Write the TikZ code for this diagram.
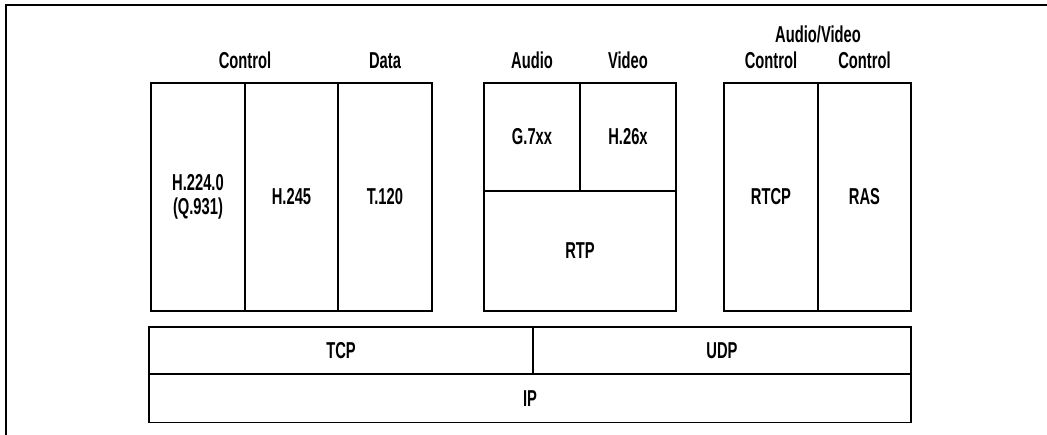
\documentclass[tikz,border=0pt]{standalone}
\usepackage{fontspec}
\newfontfamily\labfont{Liberation Sans}[FakeStretch=0.64]
\tikzset{
  cellbox/.style={draw, line width=1.6pt, inner sep=0pt, align=center,
    font=\labfont\bfseries\fontsize{23}{24}\selectfont},
  lab/.style={anchor=base, inner sep=0pt,
    font=\labfont\bfseries\fontsize{23}{24}\selectfont},
  framestroke/.style={line width=1.6pt}
}
\begin{document}
\begin{tikzpicture}[x=1pt,y=-1pt]
\useasboundingbox (0,0) rectangle (1047,435);
% frame corner
\coordinate (fr1) at (1047,5);
\coordinate (fr2) at (6,5);
\coordinate (fr3) at (6,435);
\draw[framestroke] (fr1) -- (fr2) -- (fr3);
% left group
\node[cellbox, minimum width=94pt, minimum height=228pt] (h224) at (198,197) {H.224.0\\(Q.931)};
\node[cellbox, minimum width=93pt, minimum height=228pt] (h245) at (291.5,197) {H.245};
\node[cellbox, minimum width=94pt, minimum height=228pt] (t120) at (385,197) {T.120};
% middle group
\node[cellbox, minimum width=96pt, minimum height=108pt] (g7) at (532,137) {G.7xx};
\node[cellbox, minimum width=96pt, minimum height=108pt] (h26) at (628,137) {H.26x};
\node[cellbox, minimum width=192pt, minimum height=120pt] (rtp) at (580,251) {RTP};
% right group
\node[cellbox, minimum width=94pt, minimum height=228pt] (rtcp) at (771,197) {RTCP};
\node[cellbox, minimum width=93pt, minimum height=228pt] (ras) at (864.5,197) {RAS};
% bottom
\node[cellbox, minimum width=384pt, minimum height=47pt] (tcp) at (341,350.5) {TCP};
\node[cellbox, minimum width=378pt, minimum height=47pt] (udp) at (722,350.5) {UDP};
\node[cellbox, minimum width=762pt, minimum height=48pt] (ip) at (530,398.5) {IP};
% headings
\node[lab] (lctl) at (245,69) {Control};
\node[lab] (ldata) at (385,69) {Data};
\node[lab] (laudio) at (532,69) {Audio};
\node[lab] (lvideo) at (628,69) {Video};
\node[lab] (lav) at (818,43) {Audio/Video};
\node[lab] (lctl2) at (771,69) {Control};
\node[lab] (lctl3) at (864.5,69) {Control};
\end{tikzpicture}
\end{document}
